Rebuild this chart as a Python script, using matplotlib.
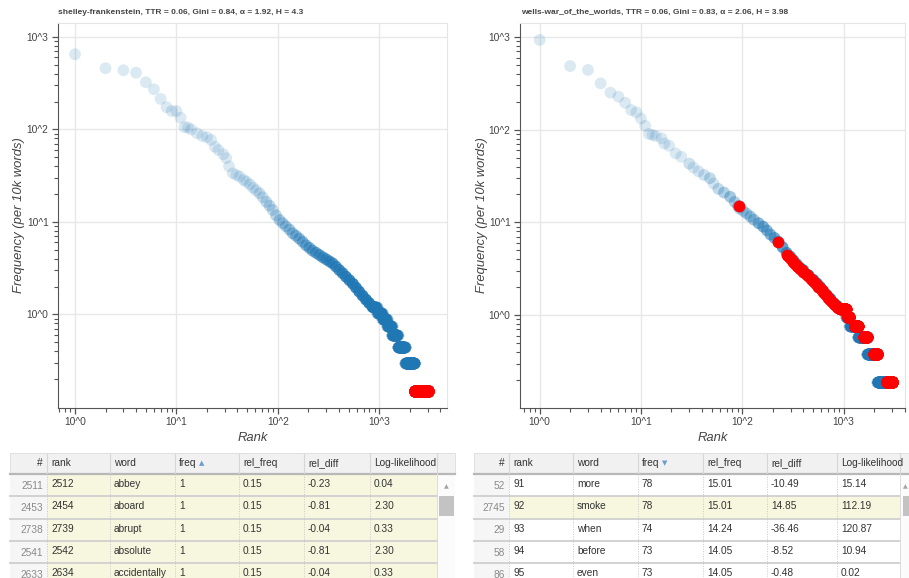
import numpy as np
import matplotlib
matplotlib.use("Agg")
import matplotlib.pyplot as plt
import matplotlib.colors as mcolors
from matplotlib.patches import Rectangle
from matplotlib.ticker import FixedLocator, FixedFormatter, LogLocator, NullFormatter

plt.rcParams['font.family'] = ['Liberation Sans', 'DejaVu Sans']

# ---------------- data: shelley-frankenstein ----------------
left_title = "shelley-frankenstein, TTR = 0.06, Gini = 0.84, \u03b1 = 1.92, H = 4.3"
left_top_rank = [1, 2, 3, 4, 5, 6, 7, 8, 9, 10, 11, 12, 13, 14]
left_top_freq = [650, 459, 437, 411, 324, 272, 214, 174, 158, 158, 134, 106, 105, 100]
left_band_rank = [16, 18, 20, 22, 24, 26, 29, 31, 33, 36, 39, 42, 46, 49, 53, 57, 61, 66, 71, 77,
                  83, 89, 96, 104, 112, 120, 130, 140, 151, 163, 176, 190, 205, 220, 238, 257,
                  278, 300, 323, 347, 374, 403, 435, 470, 508, 550, 590, 634, 685, 740, 795, 857]
left_band_freq = [91, 85, 82.5, 77, 65, 60, 54, 49, 40, 33.6, 32.2, 31, 28.5, 27.3, 25.5, 23.5, 22,
                  20.4, 18.5, 16.5, 15, 13.5, 11.8, 10.5, 9.7, 9.0, 8.3, 7.55, 7.1, 6.6, 6.1, 5.6,
                  5.25, 4.9, 4.65, 4.4, 4.15, 3.95, 3.75, 3.57, 3.3, 3.03, 2.8, 2.56, 2.35, 2.15,
                  1.95, 1.77, 1.6, 1.45, 1.33, 1.21]
# tied-frequency runs (freq per 10k, last rank of the run)
left_step_freq = [1.20, 1.05, 0.90, 0.75, 0.60, 0.45, 0.30, 0.15]
left_step_last = [950, 1070, 1190, 1330, 1520, 1800, 2230, 3035]
# selected words (red)
left_red_rank = []
left_red_freq = []
left_red_step_freq = [0.15]
left_red_step_first = [2231]
left_red_step_last = [3035]

# ---------------- data: wells-war_of_the_worlds ----------------
right_title = "wells-war_of_the_worlds, TTR = 0.06, Gini = 0.83, \u03b1 = 2.06, H = 3.98"
right_top_rank = [1, 2, 3, 4, 5, 6, 7, 8, 9, 10, 11, 12, 13, 14]
right_top_freq = [929, 486, 441, 316, 251, 227, 195, 163, 154, 132, 110, 90, 88, 85.5]
right_band_rank = [16, 17, 19, 22, 25, 30, 33, 37, 42, 48, 52, 58, 66, 76, 84, 91, 92, 93, 95,
                   102, 110, 120, 130, 145, 161, 175, 190, 208, 227, 250, 274, 297, 320, 345,
                   371, 400, 450, 503, 545, 585, 630, 681, 740, 800, 860, 922]
right_band_freq = [80.7, 71, 67, 55.6, 51, 43, 39, 35.5, 32.5, 30, 26.3, 23, 21, 18.9, 16.6,
                   15.01, 15.01, 14.24, 14.05, 13.3, 12.5, 11.6, 10.7, 9.8, 9.0, 8.2, 7.4, 6.8,
                   6.2, 5.4, 4.7, 4.3, 3.9, 3.55, 3.25, 3.06, 2.7, 2.4, 2.2, 2.02, 1.83, 1.65,
                   1.5, 1.35, 1.26, 1.18]
right_step_freq = [1.155, 0.962, 0.770, 0.577, 0.385, 0.192]
right_step_last = [1050, 1140, 1380, 1700, 2150, 3030]
right_red_rank = [92, 227, 274, 285, 297, 310, 320, 333, 345, 358, 371, 385, 400, 425, 450, 475,
                  503, 525, 545, 565, 585, 607, 630, 655, 681, 710, 740, 770, 800, 830, 860,
                  890, 922]
right_red_freq = [15.01, 6.2, 4.5, 4.3, 4.1, 3.9, 3.75, 3.6, 3.42, 3.3, 3.15, 3.05, 2.95, 2.8,
                  2.62, 2.48, 2.33, 2.22, 2.12, 2.03, 1.95, 1.85, 1.77, 1.7, 1.6, 1.52, 1.45,
                  1.38, 1.31, 1.27, 1.23, 1.2, 1.16]
right_red_step_freq = [1.155, 0.962, 0.770, 0.577, 0.385, 0.192]
right_red_step_first = [960, 1100, 1290, 1590, 2000, 2700]
right_red_step_last = [1050, 1140, 1380, 1700, 2150, 3030]

# ---------------- table data ----------------
table_headers = ['#', 'rank', 'word', 'freq', 'rel_freq', 'rel_diff', 'Log-likelihood']
left_tbl_idx = [2511, 2453, 2738, 2541, 2633]
left_tbl_rank = [2512, 2454, 2739, 2542, 2634]
left_tbl_word = ['abbey', 'aboard', 'abrupt', 'absolute', 'accidentally']
left_tbl_freq = [1, 1, 1, 1, 1]
left_tbl_relfreq = [0.15, 0.15, 0.15, 0.15, 0.15]
left_tbl_reldiff = [-0.23, -0.81, -0.04, -0.81, -0.04]
left_tbl_ll = [0.04, 2.30, 0.33, 2.30, 0.33]
left_tbl_selected = [True, True, True, True, True]

right_tbl_idx = [52, 2745, 29, 58, 86]
right_tbl_rank = [91, 92, 93, 94, 95]
right_tbl_word = ['more', 'smoke', 'when', 'before', 'even']
right_tbl_freq = [78, 78, 74, 73, 73]
right_tbl_relfreq = [15.01, 15.01, 14.24, 14.05, 14.05]
right_tbl_reldiff = [-10.49, 14.85, -36.46, -8.52, -0.48]
right_tbl_ll = [15.14, 112.19, 120.87, 10.94, 0.02]
right_tbl_selected = [False, True, False, False, False]

# ---------------- figure ----------------
W, H = 909, 578
fig = plt.figure(figsize=(W / 100, H / 100), dpi=100)

BLUE = '#1f77b4'
A_TOP = 0.16     # look of an isolated point
A_FILL = 0.05    # per-word fill alpha used for overplotting
MS = 72
TXT = '#444444'


def px_axes(x0, y0, x1, y1, **kw):
    return fig.add_axes([x0 / W, 1 - y1 / H, (x1 - x0) / W, (y1 - y0) / H], **kw)


def draw_plot(ax, top_r, top_f, band_r, band_f, step_f, step_last,
              red_r, red_f, red_sf, red_sfirst, red_slast, xlim, ylim):
    r = np.array(list(top_r) + list(band_r), float)
    f = np.array(list(top_f) + list(band_f), float)
    gaps = np.diff(np.concatenate([[0.0], r]))
    alpha = np.maximum(A_TOP, 1 - (1 - A_FILL) ** gaps)
    cols = np.tile(mcolors.to_rgba(BLUE), (len(r), 1))
    cols[:, 3] = alpha
    ax.scatter(r, f, s=MS, c=cols, linewidths=0, zorder=3)
    first = int(r[-1]) + 1
    for lev, last in zip(step_f, step_last):
        rr = np.arange(first, last + 1)
        ax.scatter(rr, np.full(len(rr), lev), s=MS, color=BLUE, alpha=A_FILL,
                   linewidths=0, zorder=3)
        first = last + 1
    if len(red_r):
        ax.scatter(red_r, red_f, s=MS, color='red', linewidths=0, zorder=4)
    for lev, a, b in zip(red_sf, red_sfirst, red_slast):
        rr = np.arange(a, b + 1)
        ax.scatter(rr, np.full(len(rr), lev), s=MS, color='red', linewidths=0, zorder=4)

    ax.set_xscale('log')
    ax.set_yscale('log')
    ax.set_xlim(*xlim)
    ax.set_ylim(*ylim)
    for s in ['top', 'right']:
        ax.spines[s].set_color('#e5e5e5')
    for s in ['left', 'bottom']:
        ax.spines[s].set_color('#555555')
    ax.grid(True, which='major', color='#e8e8e8', lw=1)
    ax.set_axisbelow(True)
    majors = [1, 10, 100, 1000]
    labs = ['10^0', '10^1', '10^2', '10^3']
    for axis in (ax.xaxis, ax.yaxis):
        axis.set_major_locator(FixedLocator(majors))
        axis.set_major_formatter(FixedFormatter(labs))
        axis.set_minor_locator(LogLocator(base=10, subs=np.arange(2, 10)))
        axis.set_minor_formatter(NullFormatter())
    ax.tick_params(which='major', direction='out', length=4.3, width=0.9, color='#555555',
                   labelsize=7.4, labelcolor=TXT, pad=2.5)
    ax.tick_params(which='minor', direction='out', length=2.9, width=0.8, color='#555555')
    ax.set_xlabel('Rank', fontsize=9.4, style='italic', color=TXT)
    ax.set_ylabel('Frequency (per 10k words)', fontsize=9.4, style='italic', color=TXT)


axL = px_axes(58, 23, 447, 408)
draw_plot(axL, left_top_rank, left_top_freq, left_band_rank, left_band_freq,
          left_step_freq, left_step_last, left_red_rank, left_red_freq,
          left_red_step_freq, left_red_step_first, left_red_step_last,
          (0.68, 4660), (0.0975, 1416))
axL.yaxis.set_label_coords((25 - 58) / 389, 0.5)
axL.xaxis.set_label_coords(0.5, (408 - 432) / 385)

axR = px_axes(520, 23, 905, 408)
draw_plot(axR, right_top_rank, right_top_freq, right_band_rank, right_band_freq,
          right_step_freq, right_step_last, right_red_rank, right_red_freq,
          right_red_step_freq, right_red_step_first, right_red_step_last,
          (0.64, 4040), (0.0995, 1416))
axR.yaxis.set_label_coords((488 - 520) / 385, 0.5)
axR.xaxis.set_label_coords(0.5, (408 - 432) / 385)

fig.text(58 / W, 1 - 12 / H, left_title, fontsize=6.0, fontweight='bold', color=TXT,
         ha='left', va='center')
fig.text(521 / W, 1 - 12 / H, right_title, fontsize=6.0, fontweight='bold', color=TXT,
         ha='left', va='center')

# ---------------- tables ----------------
tax = fig.add_axes([0, 0, 1, 1])
tax.set_xlim(0, W)
tax.set_ylim(H, 0)
tax.axis('off')

HDR_T, HDR_B = 453, 474
ROW_H = 22.3
FS = 7.3


def fmt(v):
    return f"{v:.2f}"


def draw_table(x0, seps, x_end, idx, ranks, words, freqs, relf, reld, ll, selected,
               arrow, scroll_x0, scroll_x1):
    # header
    tax.add_patch(Rectangle((x0, HDR_T), x_end - x0, HDR_B - HDR_T, fc='#f1f1f1',
                            ec='#dcdcdc', lw=0.6))
    tax.plot([x0, x_end], [HDR_B, HDR_B], color='#b8b8b8', lw=1.6)
    edges = [x0] + list(seps)
    for k, h in enumerate(table_headers):
        if k == 0:
            tax.text(seps[0] - 4, (HDR_T + HDR_B) / 2, h, fontsize=FS, color='#333333',
                     ha='right', va='center')
        else:
            tax.text(edges[k] + 4, (HDR_T + HDR_B) / 2, h, fontsize=FS, color='#333333',
                     ha='left', va='center')
        if k < len(seps):
            tax.plot([seps[k], seps[k]], [HDR_T + 1, HDR_B - 1], color='#d6d6d6', lw=0.8)
    tax.text(edges[3] + 24, (HDR_T + HDR_B) / 2, arrow, fontsize=5.0, color='#6c9bd2',
             ha='left', va='center', family='DejaVu Sans')
    # rows
    for i in range(len(idx)):
        yt = HDR_B + i * ROW_H
        yb = yt + ROW_H
        bg = '#f7f7df' if selected[i] else '#ffffff'
        tax.add_patch(Rectangle((x0, yt), seps[0] - x0, ROW_H, fc='#f6f6f6', ec='none'))
        tax.add_patch(Rectangle((seps[0], yt), seps[-1] - seps[0], ROW_H, fc=bg, ec='none'))
        tax.plot([x0, seps[-1]], [yb, yb], color='#d2d2d2', lw=1.4)
        for s in seps[:-1]:
            tax.plot([s, s], [yt, yb], color='#c8c8c8', lw=0.7, ls=(0, (1, 1.5)))
        tax.plot([seps[-1], seps[-1]], [yt, yb], color='#dddddd', lw=0.7)
        yc = yt + ROW_H / 2 - 1.0
        tax.text(seps[0] - 4, yc + 1.5, str(idx[i]), fontsize=FS, color='#8a8a8a',
                 ha='right', va='center')
        vals = [str(ranks[i]), words[i], str(freqs[i]), fmt(relf[i]), fmt(reld[i]), fmt(ll[i])]
        for k, v in enumerate(vals):
            tax.text(seps[k] + 4, yc, v, fontsize=FS, color='#333333', ha='left', va='center')
    # scrollbar
    tax.add_patch(Rectangle((seps[-1], HDR_B), scroll_x1 - seps[-1], H - HDR_B,
                            fc='#fbfbfb', ec='none'))
    tax.text((seps[-1] + scroll_x1) / 2 + 0.5, HDR_B + 13, '\u25b2', fontsize=4.5,
             color='#a3a3a3', ha='center', va='center', family='DejaVu Sans')
    tax.add_patch(Rectangle((scroll_x0, HDR_B + 22), scroll_x1 - scroll_x0 - 1, 20,
                            fc='#c3c3c3', ec='none'))


draw_table(10, [47, 110, 175, 239, 304, 370, 437], 455,
           left_tbl_idx, left_tbl_rank, left_tbl_word, left_tbl_freq, left_tbl_relfreq,
           left_tbl_reldiff, left_tbl_ll, left_tbl_selected, '\u25b2', 439, 455)
draw_table(474, [509, 573, 638, 703, 767, 837, 900], 909,
           right_tbl_idx, right_tbl_rank, right_tbl_word, right_tbl_freq, right_tbl_relfreq,
           right_tbl_reldiff, right_tbl_ll, right_tbl_selected, '\u25bc', 903, 910)

fig.savefig('out.png', dpi=100)
